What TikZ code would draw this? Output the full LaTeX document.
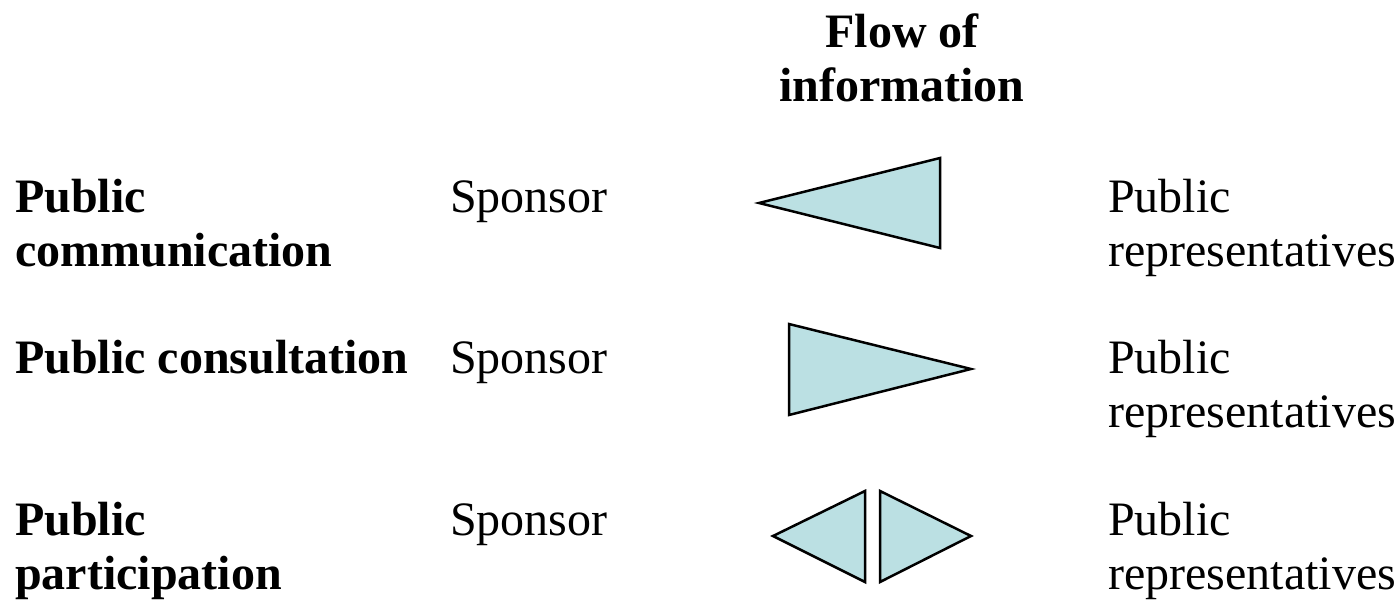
\documentclass[tikz,border=0pt]{standalone}
\usepackage{fontspec}
\setmainfont{Liberation Serif}
\begin{document}
\begin{tikzpicture}[x=1pt,y=-1pt,
  lbl/.style={anchor=base west,inner sep=0pt,align=left,font=\fontsize{48}{54}\selectfont},
  head/.style={lbl,font=\fontsize{48}{54}\selectfont\bfseries},
  flow/.style={fill=flowfill,draw=black,line width=2.5pt,line join=miter}]
\definecolor{flowfill}{HTML}{BBE0E3}
\useasboundingbox (0,0) rectangle (1400,602);

% column heading (base anchor sits on the last line)
\node[head,anchor=base,align=center] (title) at (902,101) {Flow of\\information};

% row 1
\node[head] (h1) at (15,266) {Public\\communication};
\node[lbl] (s1) at (450,212) {Sponsor};
\node[lbl] (p1) at (1108,266) {Public\\representatives};
\draw[flow] (759,203) -- (940,158) -- (940,248) -- cycle;

% row 2
\node[head] (h2) at (15,373) {Public consultation};
\node[lbl] (s2) at (450,373) {Sponsor};
\node[lbl] (p2) at (1108,427) {Public\\representatives};
\draw[flow] (789,324) -- (971,369) -- (789,415) -- cycle;

% row 3
\node[head] (h3) at (15,589) {Public\\participation};
\node[lbl] (s3) at (450,535) {Sponsor};
\node[lbl] (p3) at (1108,589) {Public\\representatives};
\draw[flow] (773,536) -- (865,491) -- (865,582) -- cycle;
\draw[flow] (880,491) -- (971,536) -- (880,582) -- cycle;
\end{tikzpicture}
\end{document}
